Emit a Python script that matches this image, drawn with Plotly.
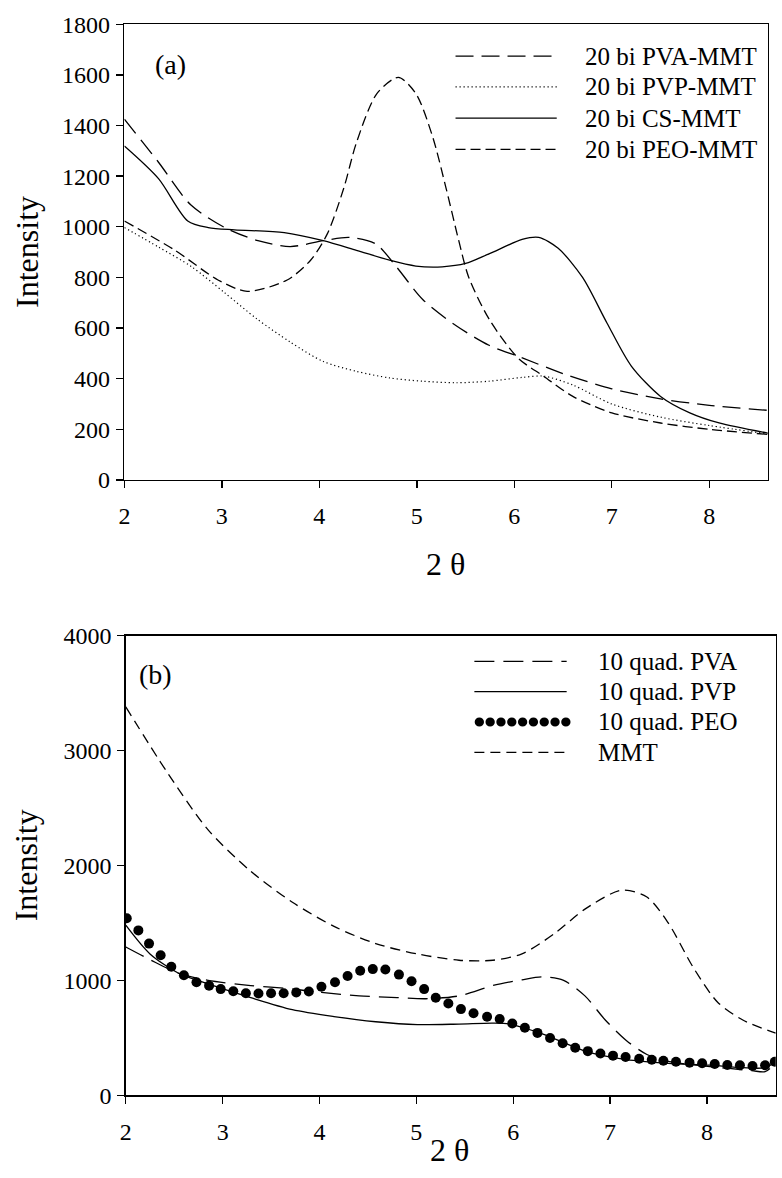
import plotly.graph_objects as go

W, H = 782, 1178
FONT = "Liberation Serif"

# ---------------- Panel (a) data ----------------
a_names = ["20 bi PVA-MMT", "20 bi PVP-MMT", "20 bi CS-MMT", "20 bi PEO-MMT"]

a_pva_x = [2.0, 2.35, 2.68, 3.03, 3.37, 3.70, 4.04, 4.31, 4.58, 4.79, 5.06, 5.40, 5.74, 6.05, 6.5, 7.0, 7.5, 8.0, 8.6]
a_pva_y = [1425, 1255, 1087, 997, 945, 922, 945, 958, 932, 842, 713, 610, 532, 487, 420, 360, 320, 295, 275]

a_pvp_x = [2.0, 2.35, 2.69, 3.03, 3.36, 3.70, 4.04, 4.38, 4.72, 5.06, 5.40, 5.74, 6.08, 6.3, 6.6, 7.0, 7.5, 8.0, 8.6]
a_pvp_y = [997, 920, 842, 739, 636, 545, 468, 429, 403, 390, 384, 390, 405, 410, 375, 300, 248, 215, 182]

a_cs_x = [2.0, 2.35, 2.65, 2.86, 3.13, 3.64, 4.04, 4.38, 4.72, 4.99, 5.26, 5.50, 5.74, 6.08, 6.25, 6.45, 6.7, 6.95, 7.2, 7.5, 7.8, 8.1, 8.6]
a_cs_y = [1319, 1190, 1023, 997, 988, 977, 945, 907, 868, 845, 842, 855, 893, 950, 958, 915, 800, 620, 450, 330, 265, 225, 185]

a_peo_x = [2.0, 2.52, 2.96, 3.26, 3.67, 3.91, 4.08, 4.25, 4.38, 4.59, 4.81, 4.99, 5.16, 5.30, 5.43, 5.53, 5.74, 6.04, 6.3, 6.6, 7.0, 7.5, 8.0, 8.6]
a_peo_y = [1023, 907, 790, 745, 790, 868, 971, 1152, 1332, 1526, 1590, 1526, 1358, 1152, 945, 803, 636, 481, 410, 330, 265, 225, 200, 180]

# ---------------- Panel (b) data ----------------
b_names = ["10 quad. PVA", "10 quad. PVP", "10 quad. PEO", "MMT"]

b_pva_x = [2.0, 2.25, 2.55, 2.85, 3.29, 3.72, 4.02, 4.41, 4.80, 5.10, 5.44, 5.79, 6.09, 6.30, 6.52, 6.74, 6.95, 7.17, 7.38, 7.60, 8.03, 8.46, 8.6, 8.7]
b_pva_y = [1290, 1180, 1060, 1000, 955, 925, 895, 865, 850, 840, 865, 955, 1005, 1030, 1000, 865, 655, 475, 355, 295, 250, 215, 205, 275]

b_pvp_x = [2.0, 2.25, 2.55, 2.85, 3.29, 3.72, 4.15, 4.58, 5.01, 5.44, 5.79, 5.96, 6.30, 6.74, 7.17, 7.60, 8.03, 8.37, 8.6, 8.7]
b_pvp_y = [1480, 1230, 1060, 970, 850, 745, 685, 640, 615, 620, 628, 620, 535, 385, 310, 278, 262, 240, 240, 290]

b_peo_x = [2.01, 2.13, 2.24, 2.36, 2.47, 2.60, 2.73, 2.86, 2.98, 3.11, 3.24, 3.37, 3.50, 3.63, 3.76, 3.89,
           4.02, 4.16, 4.29, 4.42, 4.55, 4.68, 4.82, 4.95, 5.08, 5.20, 5.33, 5.46, 5.59, 5.73, 5.86, 5.99,
           6.12, 6.25, 6.38, 6.51, 6.64, 6.77, 6.90, 7.03, 7.16, 7.30, 7.43, 7.55, 7.68, 7.82, 7.95, 8.08,
           8.21, 8.34, 8.47, 8.60, 8.70]
b_peo_y = [1540, 1435, 1320, 1218, 1119, 1044, 984, 954, 924, 906, 888, 885, 888, 888, 894, 903,
           945, 984, 1038, 1083, 1098, 1095, 1050, 993, 924, 849, 798, 750, 714, 684, 663, 624,
           588, 543, 498, 453, 414, 384, 363, 345, 333, 318, 309, 300, 292, 284, 278, 272,
           263, 261, 255, 261, 292]

b_mmt_x = [2.0, 2.42, 2.85, 3.29, 3.72, 4.15, 4.58, 5.01, 5.44, 5.79, 6.09, 6.43, 6.74, 7.12, 7.38, 7.60, 7.86, 8.11, 8.37, 8.71]
b_mmt_y = [3380, 2820, 2310, 1950, 1680, 1470, 1320, 1230, 1175, 1175, 1230, 1410, 1620, 1785, 1725, 1500, 1110, 810, 655, 540]

a_yticks = list(range(0, 1801, 200))
b_yticks = list(range(0, 4001, 1000))
x_ticks = [2, 3, 4, 5, 6, 7, 8]

# ---------------- styles ----------------
LW = 1.3
a_styles = [
    dict(dash="18px,8px", width=LW),
    dict(dash="1.2px,2.8px", width=1.2),
    dict(dash="solid", width=LW),
    dict(dash="10px,5px", width=LW),
]
b_styles = [
    dict(dash="20px,9px", width=LW),
    dict(dash="solid", width=LW),
    None,
    dict(dash="10px,6px", width=LW),
]

fig = go.Figure()

def add_line(x, y, style, xa, ya, name):
    fig.add_trace(go.Scatter(
        x=x, y=y, mode="lines", name=name, showlegend=False,
        line=dict(color="black", width=style["width"], dash=style["dash"], shape="spline", smoothing=0.8),
        xaxis=xa, yaxis=ya, hoverinfo="skip"))

add_line(a_pva_x, a_pva_y, a_styles[0], "x", "y", a_names[0])
add_line(a_pvp_x, a_pvp_y, a_styles[1], "x", "y", a_names[1])
add_line(a_cs_x, a_cs_y, a_styles[2], "x", "y", a_names[2])
add_line(a_peo_x, a_peo_y, a_styles[3], "x", "y", a_names[3])

add_line(b_mmt_x, b_mmt_y, b_styles[3], "x2", "y2", b_names[3])
add_line(b_pva_x, b_pva_y, b_styles[0], "x2", "y2", b_names[0])
add_line(b_pvp_x, b_pvp_y, b_styles[1], "x2", "y2", b_names[1])
fig.add_trace(go.Scatter(
    x=b_peo_x, y=b_peo_y, mode="markers", name=b_names[2], showlegend=False,
    marker=dict(color="black", size=10, line=dict(width=0)),
    xaxis="x2", yaxis="y2", hoverinfo="skip"))

def fx(px):
    return px / W

def fy(py):
    return 1 - py / H

axis_common = dict(
    showline=True, mirror=True, linecolor="black", linewidth=1.5,
    ticks="outside", ticklen=7, tickwidth=1.3, tickcolor="black",
    showgrid=False, zeroline=False,
    tickfont=dict(family=FONT, size=24, color="black"),
)

fig.update_layout(
    width=W, height=H,
    margin=dict(l=0, r=0, t=0, b=0),
    paper_bgcolor="white", plot_bgcolor="white",
    showlegend=False,
    xaxis=dict(domain=[fx(119.3), fx(767.7)], range=[2, 8.6], tickvals=x_ticks,
               anchor="y", ticklabelstandoff=7, **axis_common),
    yaxis=dict(domain=[fy(477.5), fy(11.5)], range=[0, 1800], tickvals=a_yticks,
               anchor="x", ticklabelstandoff=1, **axis_common),
    xaxis2=dict(domain=[fx(120.7), fx(775.7)], range=[2, 8.71], tickvals=x_ticks,
                anchor="y2", ticklabelstandoff=7, **axis_common),
    yaxis2=dict(domain=[fy(1106.7), fy(636.7)], range=[0, 4000], tickvals=b_yticks,
                anchor="x2", ticklabelstandoff=1, **axis_common),
)

annotations = []
shapes = []

def text(px, py, s, size, angle=0, xanchor="center"):
    annotations.append(dict(
        x=fx(px), y=fy(py), xref="paper", yref="paper", text=s, showarrow=False,
        textangle=angle, xanchor=xanchor, yanchor="middle",
        font=dict(family=FONT, size=size, color="black")))

# axis titles and panel labels
text(21, 244.5, "Intensity", 32, angle=-90)
text(21, 871.7, "Intensity", 32, angle=-90)
text(443, 563, "2 θ", 32)
text(447, 1163, "2 θ", 32)
text(166, 53, "(a)", 28)
text(151, 676, "(b)", 28)

# legend (a)
a_rows = [44, 75.5, 107.5, 139.5]
for name, st, py in zip(a_names, a_styles, a_rows):
    shapes.append(dict(type="line", xref="paper", yref="paper",
                       x0=fx(453), x1=fx(555), y0=fy(py), y1=fy(py),
                       line=dict(color="black", width=st["width"], dash=st["dash"])))
    text(581, py, name, 25, xanchor="left")

# legend (b)
b_rows = [663, 694, 725, 756]
for i, (name, st, py) in enumerate(zip(b_names, b_styles, b_rows)):
    if st is None:
        r = 4.7
        for k in range(9):
            cx = 477 + k * 10.9
            shapes.append(dict(type="circle", xref="paper", yref="paper",
                               x0=fx(cx - r), x1=fx(cx + r), y0=fy(py + r), y1=fy(py - r),
                               fillcolor="black", line=dict(width=0)))
    else:
        shapes.append(dict(type="line", xref="paper", yref="paper",
                           x0=fx(472), x1=fx(565), y0=fy(py), y1=fy(py),
                           line=dict(color="black", width=st["width"], dash=st["dash"])))
    text(595, py, name, 25, xanchor="left")

fig.update_layout(annotations=annotations, shapes=shapes)

fig.write_html(
    "out.html",
    config={"displayModeBar": False, "staticPlot": True},
    post_script="document.body.style.margin='0';document.body.style.overflow='hidden';",
)
